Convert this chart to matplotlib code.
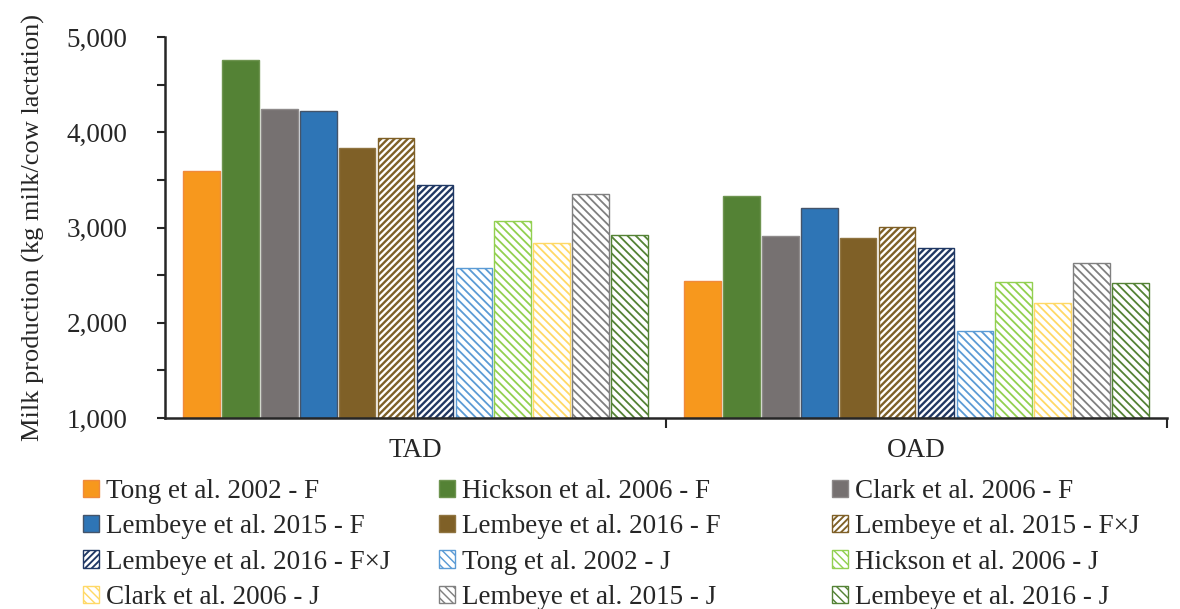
import matplotlib
matplotlib.use("Agg")
import matplotlib.pyplot as plt
from matplotlib.patches import Patch
from matplotlib.ticker import MultipleLocator, FuncFormatter
import numpy as np

# Milking frequency groups
groups = ["TAD", "OAD"]

# Study / breed series
series = [
    "Tong et al. 2002 - F",
    "Hickson et al. 2006 - F",
    "Clark et al. 2006 - F",
    "Lembeye et al. 2015 - F",
    "Lembeye et al. 2016 - F",
    "Lembeye et al. 2015 - F\u00d7J",
    "Lembeye et al. 2016 - F\u00d7J",
    "Tong et al. 2002 - J",
    "Hickson et al. 2006 - J",
    "Clark et al. 2006 - J",
    "Lembeye et al. 2015 - J",
    "Lembeye et al. 2016 - J",
]

# Milk production (kg milk/cow lactation)
tad_values = [3590, 4760, 4240, 4220, 3830, 3940, 3450, 2570, 3065, 2835, 3350, 2925]
oad_values = [2435, 3335, 2915, 3200, 2885, 3010, 2780, 1915, 2430, 2205, 2630, 2420]

# (face, edge, hatch, hatch linewidth)
styles = [
    ("#F7981D", "#F08A3C", None, 1.0),
    ("#548235", "#6E9450", None, 1.0),
    ("#767171", "#8E8A8A", None, 1.0),
    ("#2E75B6", "#44546A", None, 1.0),
    ("#7F6027", "#8F7440", None, 1.0),
    ("white", "#7F6027", "/////", 1.7),
    ("white", "#203864", "/////", 1.7),
    ("white", "#5B9BD5", "\\\\\\\\", 1.3),
    ("white", "#92D050", "\\\\\\\\", 1.3),
    ("white", "#FFD966", "\\\\\\\\", 1.3),
    ("white", "#808080", "\\\\\\\\", 1.3),
    ("white", "#548235", "\\\\\\\\", 1.3),
]

FS = 19.5
FONT = "Liberation Serif"
plt.rcParams["font.family"] = [FONT, "DejaVu Serif"]

fig = plt.figure(figsize=(11.8, 6.09), dpi=100)
ax = fig.add_axes([165 / 1180, 1 - 418 / 609, 1002 / 1180, 381 / 609])

values = np.array([tad_values, oad_values])
n = len(series)
pitch = 0.932 / n
bar_w = pitch * 0.94
x = np.arange(len(groups)) + 0.5

handles = []
for i, name in enumerate(series):
    face, edge, hatch, hlw = styles[i]
    offs = x - 0.466 + pitch * (i + 0.5)
    bars = ax.bar(offs, values[:, i] - 1000, bottom=1000, width=bar_w,
                  color=face, edgecolor=edge, hatch=hatch, linewidth=1.0)
    for b in bars:
        b.set_hatch_linewidth(hlw)
    handles.append(Patch(facecolor=face, edgecolor=edge, hatch=hatch,
                         linewidth=1.0, label=name))

ax.set_xlim(0, 2)
ax.set_ylim(1000, 5000)
ax.yaxis.set_major_locator(MultipleLocator(1000))
ax.yaxis.set_minor_locator(MultipleLocator(500))
ax.yaxis.set_major_formatter(FuncFormatter(lambda v, p: f"{int(v):,}"))
ax.set_xticks([1, 2])
ax.set_xticklabels([])
ax.tick_params(axis="y", which="both", direction="out", length=6, width=1.5,
               color="#262626", labelsize=FS, labelcolor="#262626", pad=21)
ax.tick_params(axis="x", direction="out", length=7, width=1.5, color="#262626")
for s in ["top", "right"]:
    ax.spines[s].set_visible(False)
for s in ["left", "bottom"]:
    ax.spines[s].set_linewidth(1.8)
    ax.spines[s].set_color("#262626")

for xi, g in zip(x, groups):
    ax.text(xi, -0.085, g, transform=ax.get_xaxis_transform(), ha="center",
            va="center", fontsize=FS, color="#262626")

ax.set_ylabel("Milk production (kg milk/cow lactation)", fontsize=19,
              color="#262626")
ax.yaxis.set_label_coords(-0.12, 0.5)

# Legend laid out in three columns, filled row by row
col_left = [83, 439, 832]
for c in range(3):
    idx = list(range(c, n, 3))
    leg = fig.legend(handles=[handles[k] for k in idx], loc="upper left",
                     bbox_to_anchor=(col_left[c] / 1180, 1 - 479 / 609),
                     frameon=False, fontsize=FS, handlelength=0.6,
                     handleheight=0.6, handletextpad=0.25, labelspacing=0.38,
                     borderpad=0, borderaxespad=0)
    for k, lh in zip(idx, leg.legend_handles):
        lh.set_hatch_linewidth(styles[k][3] * 0.8)
    for t in leg.get_texts():
        t.set_color("#262626")

fig.savefig("out.png", dpi=100)
